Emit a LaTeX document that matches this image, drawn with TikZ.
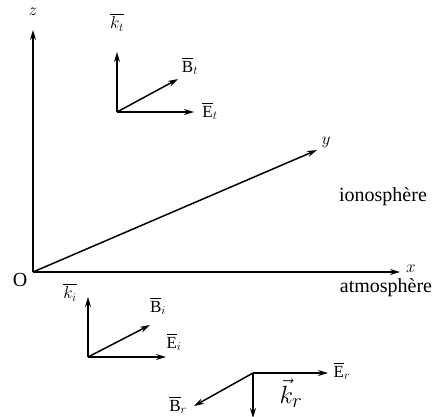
\documentclass[tikz,border=0pt]{standalone}
\usepackage{fontspec}
\setmainfont{Liberation Serif}
\usepackage{amsmath}
\usetikzlibrary{arrows.meta}
\begin{document}
\begin{tikzpicture}[x=1pt,y=-1pt,
  vec/.style={line width=1.5pt,-{Stealth[length=10pt,width=6pt]}},
  lab/.style={inner sep=1pt,font=\fontsize{18}{20}\selectfont},
  tlab/.style={inner sep=1pt,font=\fontsize{20}{22}\selectfont},
  vlab/.style={inner sep=1pt,font=\fontsize{17}{19}\selectfont}]
\useasboundingbox (0,0) rectangle (440,416);
\coordinate (O) at (33,272);
\coordinate (Z) at (33,30);
\coordinate (X) at (400,272);
\coordinate (Y) at (317,150);
\draw[vec] (O) -- (Z);
\draw[vec] (O) -- (X);
\draw[vec] (O) -- (Y);
\node[lab] (zl) at (33,12) {$z$};
\node[lab] (xl) at (411,269) {$x$};
\node[lab] (yl) at (326,142) {$y$};
\node[tlab] (ol) at (20,280) {O};
\node[tlab] (iono) at (383,197) {ionosphère};
\node[tlab] (atmo) at (386,288) {atmosphère};
% transmitted
\coordinate (T) at (117,112);
\coordinate (Tk) at (117,52);
\coordinate (TE) at (194,112);
\coordinate (TB) at (178,79);
\draw[vec] (T) -- (Tk);
\draw[vec] (T) -- (TE);
\draw[vec] (T) -- (TB);
\node[vlab] (ktl) at (117,22) {$\overline{k_t}$};
\node[vlab] (Etl) at (210,111) {$\overline{\mathrm{E}}_t$};
\node[vlab] (Btl) at (190,66) {$\overline{\mathrm{B}}_t$};
% incident
\coordinate (I) at (88,357);
\coordinate (Ik) at (88,297);
\coordinate (IE) at (166,357);
\coordinate (IB) at (150,325);
\draw[vec] (I) -- (Ik);
\draw[vec] (I) -- (IE);
\draw[vec] (I) -- (IB);
\node[vlab] (kil) at (70,292) {$\overline{k_i}$};
\node[vlab] (Eil) at (174,342) {$\overline{\mathrm{E}}_i$};
\node[vlab] (Bil) at (158,306) {$\overline{\mathrm{B}}_i$};
% reflected
\coordinate (R) at (253,373);
\coordinate (RE) at (328,373);
\coordinate (RB) at (194,406);
\coordinate (Rk) at (253,418);
\draw[vec] (R) -- (RE);
\draw[vec] (R) -- (RB);
\draw[vec] (R) -- (Rk);
\node[vlab] (Erl) at (342,371) {$\overline{\mathrm{E}}_r$};
\node[vlab] (Brl) at (178,405) {$\overline{\mathrm{B}}_r$};
\node[inner sep=0pt,font=\fontsize{28}{30}\selectfont] (krl) at (291,393) {$\vec{k}_r$};
\end{tikzpicture}
\end{document}
